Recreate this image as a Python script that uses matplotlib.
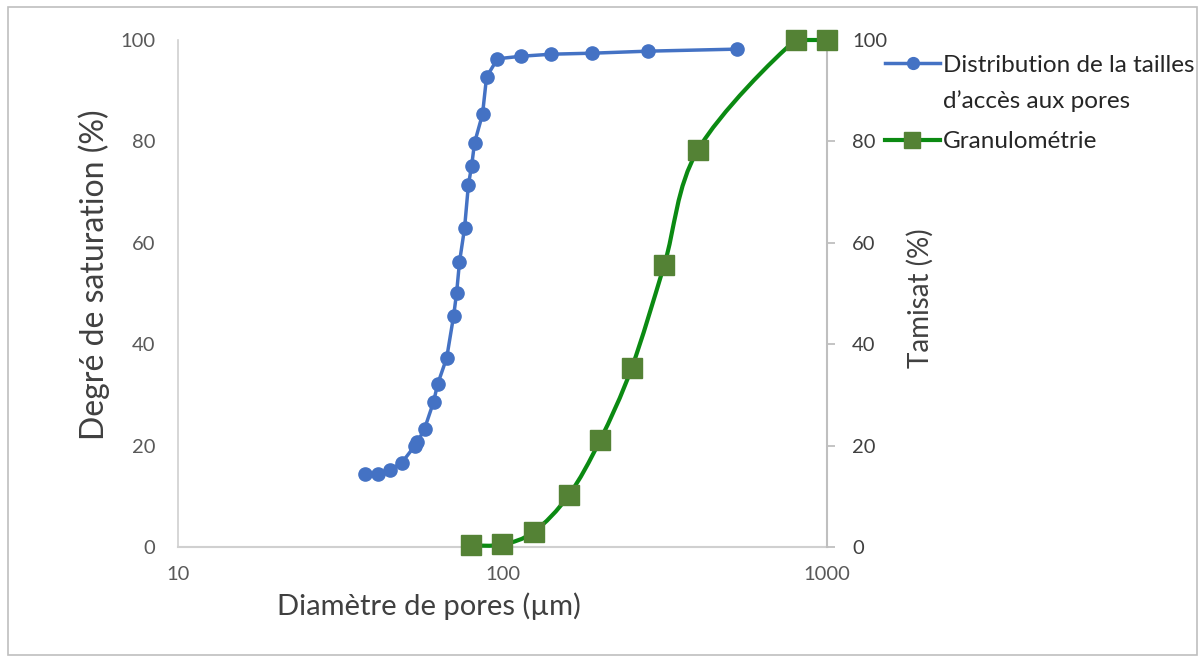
import numpy as np
import matplotlib
matplotlib.use("Agg")
import matplotlib.pyplot as plt
from matplotlib.path import Path
from matplotlib.patches import PathPatch, Rectangle
from matplotlib.lines import Line2D

# ---- data ----
pore_diam = [37.6, 41.2, 44.9, 48.9, 53.6, 54.7, 57.5, 61.3, 63.1, 67.3, 70.7, 72.2,
             73.7, 76.4, 78.5, 80.3, 82.0, 86.8, 89.3, 96.5, 114.4, 141.5, 189.3, 281.5, 528.0]
saturation = [14.3, 14.4, 15.2, 16.6, 19.9, 20.7, 23.3, 28.6, 32.1, 37.3, 45.6, 50.1,
              56.2, 62.9, 71.4, 75.1, 79.7, 85.4, 92.7, 96.3, 96.8, 97.2, 97.4, 97.8, 98.2]
grain_diam = [80, 100, 125, 160, 200, 250, 315, 400, 800, 1000]
tamisat = [0.3, 0.5, 3.0, 10.2, 21.1, 35.3, 55.6, 78.3, 100, 100]

x_ticks = [10, 100, 1000]
x_ticklabels = ["10", "100", "1000"]
y_ticks = [0, 20, 40, 60, 80, 100]

label1_lines = ["Distribution de la tailles", "d\u2019accès aux pores"]
label2 = "Granulométrie"

BLUE = "#4472C4"
GREEN_LINE = "#0B8A12"
GREEN_MK = "#548235"
TICK_C = "#595959"
TITLE_C = "#404040"
AXIS_C = "#D0D0D0"

plt.rcParams['font.family'] = ['Lato', 'DejaVu Sans']

W, H = 1202, 659
fig = plt.figure(figsize=(W / 100, H / 100), dpi=100)
fig.patch.set_facecolor("white")


def fx(px):
    return px / W


def fy(py):
    return 1 - py / H


fig.patches.append(Rectangle((fx(8), fy(655)), fx(1197) - fx(8), fy(7) - fy(655),
                             transform=fig.transFigure, fill=False,
                             edgecolor="#BFBFBF", linewidth=1.2))

ax = fig.add_axes([fx(178), fy(547), (827 - 178) / W, (547 - 40) / H])
ax2 = ax.twinx()

ax.set_xscale("log")
ax.set_xlim(10, 1000)
ax.set_ylim(0, 100)
ax2.set_ylim(0, 100)

# blue series
ax.plot(pore_diam, saturation, color=BLUE, linewidth=2.5, marker="o",
        markersize=9.5, markerfacecolor=BLUE, markeredgecolor=BLUE, zorder=3, clip_on=False)

# green smoothed series (Catmull-Rom -> cubic Bezier in log-x space)
lx = np.log10(np.array(grain_diam, dtype=float))
gy = np.array(tamisat, dtype=float)
P = np.column_stack([lx, gy])
Pext = np.vstack([P[0], P, P[-1]])
verts = [P[0]]
codes = [Path.MOVETO]
for i in range(len(P) - 1):
    p0, p1, p2, p3 = Pext[i], Pext[i + 1], Pext[i + 2], Pext[i + 3]
    c1 = p1 + (p2 - p0) / 6.0
    c2 = p2 - (p3 - p1) / 6.0
    verts += [c1, c2, p2]
    codes += [Path.CURVE4] * 3
verts = np.array(verts)
verts[:, 0] = 10 ** verts[:, 0]
verts[:, 1] = np.minimum(verts[:, 1], 100)
ax2.add_patch(PathPatch(Path(verts, codes), facecolor="none", edgecolor=GREEN_LINE,
                        linewidth=3, zorder=3, clip_on=False))
ax2.plot(grain_diam, tamisat, linestyle="none", marker="s", markersize=14,
         markerfacecolor=GREEN_MK, markeredgecolor=GREEN_MK, zorder=4, clip_on=False)

# axes styling
for a in (ax, ax2):
    for s in a.spines.values():
        s.set_visible(False)
ax.spines["bottom"].set_visible(True)
ax.spines["bottom"].set_color(AXIS_C)
ax.spines["bottom"].set_linewidth(1.5)
ax.spines["left"].set_visible(True)
ax.spines["left"].set_color(AXIS_C)
ax.spines["left"].set_linewidth(1.2)
ax2.spines["right"].set_visible(True)
ax2.spines["right"].set_color("#BFBFBF")
ax2.spines["right"].set_linewidth(1.5)

ax.set_xticks(x_ticks)
ax.set_xticklabels(x_ticklabels)
ax.xaxis.set_minor_locator(matplotlib.ticker.NullLocator())
ax.set_yticks(y_ticks)
ax2.set_yticks(y_ticks)
ax.tick_params(axis="x", length=0, pad=14, labelsize=14.5, colors=TICK_C)
ax.tick_params(axis="y", length=0, pad=16.5, labelsize=14.5, colors=TICK_C)
ax2.tick_params(axis="y", length=6, width=1.3, color="#BFBFBF", pad=12,
                labelsize=14.5, labelcolor="#404040")

ax.set_xlabel("Diamètre de pores (µm)", fontsize=21, color=TITLE_C)
ax.xaxis.set_label_coords((429 - 178) / 649, (547 - 592) / 507)
ax.set_ylabel("Degré de saturation (%)", fontsize=23, color=TITLE_C)
ax.yaxis.set_label_coords((110 - 178) / 649, (547 - 275) / 507)
ax2.set_ylabel("Tamisat (%)", fontsize=20, color=TITLE_C)
ax2.yaxis.set_label_coords((907 - 178) / 649, (547 - 298) / 507)

# legend (drawn manually to mirror the reference layout)
LEG_FS = 17.5
LEG_C = "#262626"
fig.add_artist(Line2D([fx(885), fx(940)], [fy(63), fy(63)], transform=fig.transFigure,
                      color=BLUE, linewidth=2.5))
fig.add_artist(Line2D([fx(913)], [fy(63)], transform=fig.transFigure, marker="o",
                      markersize=8.5, color=BLUE, linestyle="none"))
fig.text(fx(943), fy(65), label1_lines[0], fontsize=LEG_FS, color=LEG_C, va="center", ha="left")
fig.text(fx(943), fy(101), label1_lines[1], fontsize=LEG_FS, color=LEG_C, va="center", ha="left")
fig.add_artist(Line2D([fx(885), fx(940)], [fy(140), fy(140)], transform=fig.transFigure,
                      color=GREEN_LINE, linewidth=3))
fig.add_artist(Line2D([fx(912)], [fy(140)], transform=fig.transFigure, marker="s",
                      markersize=11, color=GREEN_MK, linestyle="none"))
fig.text(fx(943), fy(141), label2, fontsize=LEG_FS, color=LEG_C, va="center", ha="left")

fig.savefig("out.png", dpi=100, facecolor="white")
